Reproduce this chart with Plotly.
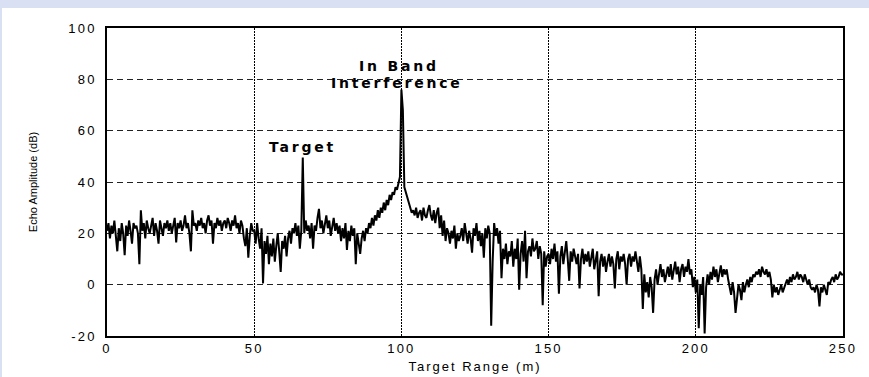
import plotly.graph_objects as go

amp_000_010 = [21, 24, 18, 23, 20, 25, 19, 13, 22, 17, 24, 20, 11.5, 23, 19, 25, 21, 16, 24, 22]
amp_010_020 = [23, 20, 8, 29, 21, 24, 18, 25, 22, 20, 23, 26, 19, 24, 21, 16, 25, 22, 19, 24]
amp_020_030 = [22, 25, 21, 24, 20, 23, 26, 16.5, 24, 22, 25, 21, 23, 27, 22, 24, 20, 13, 29, 23]
amp_030_040 = [24, 21, 25, 23, 26, 22, 24, 20, 25, 27, 23, 25, 16, 24, 22, 26, 23, 25, 21, 24]
amp_040_050 = [25, 22, 26, 24, 21, 25, 23, 27, 22, 24, 20, 25, 23, 18, 15, 22, 10.5, 19, 24, 21]
amp_050_060 = [21, 16, 24, 18, 14, 22, 0.5, 17, 12, 19, 8, 16, 11, 18, 9, 15, 20, 13, 5, 17]
amp_060_070 = [14, 19, 11, 18, 21, 16, 22, 20, 24, 19, 23, 14, 21, 49.5, 20, 25, 21, 23, 18, 24]
amp_070_080 = [14, 23, 21, 26, 29.5, 22, 25, 20, 24, 27, 22, 25, 19, 23, 26, 21, 24, 20, 23, 17]
amp_080_090 = [22, 18, 24, 13.5, 21, 17, 23, 19, 22, 8, 20, 16, 12, 18, 21, 17, 22, 20, 24, 22]
amp_090_100 = [26, 23, 27, 25, 29, 26, 30, 28, 32, 29, 33, 31, 35, 33, 36, 35, 38, 37, 40, 42]
amp_100_110 = [76, 68, 38, 36, 34, 31, 30, 28, 29, 27, 30, 26, 28, 29, 25, 30, 27, 26, 29, 31]
amp_110_120 = [27, 25, 29, 24, 28, 30, 22, 27, 19, 25, 17, 22, 20, 16, 21, 18, 23, 14, 20, 17]
amp_120_130 = [19, 22, 17, 24, 20, 16, 21, 18, 12.5, 22, 19, 24, 17, 21, 15, 20, 10.5, 22, 18, 23]
amp_130_140 = [20, -16, 9, 24, 19, 22, 16, 21, 2.5, 14, 10, 16, 8, 13, 11, 17, 7, 14, 10, 18]
amp_140_150 = [-2, 12, 17, 9, 21, 2.5, 13, 15, 11, 18, 13, 14, 17, 10, 15, 12, -8, 13, 7, 11]
amp_150_160 = [12, 8, 14, 10, 16, 9, 13, -3.5, 11, 15, 8, 12, 17, 10, 1.5, 13, 9, 14, 11, 8]
amp_160_170 = [12, -1.5, 10, 14, 8, 12, 9, 13, 7, 11, 14, 6, 10, 13, -4.5, 9, 12, 7, 11, 5]
amp_170_180 = [9, 12, 7, 11, 8, -1.5, 10, 13, 6, 11, 9, 12, 8, 0, 10, 12, 7, 11, 9, 13]
amp_180_190 = [9, 5, 11, 6, -9.5, 4, -3, 1, -5, 3, -1, -11, 2, 6, 0, 5, 8, 3, 6, 1]
amp_190_200 = [5, 7, 3, 8, 2, 6, 9, 4, 7, 1, 6, 8, 3, 7, 5, 10, 4, 6, -1, 3]
amp_200_210 = [-3, 2, -17, 0, -4, 3, -19, -1, 4, 0, 5, 2, 7, 3, 6, 1, 5, 7.5, 3, 6]
amp_210_220 = [4, 6, 2, -1, -4, 1, -3, -11, -5, 0, -2, -6, 1, -3, 0, 2, -1, 3, 1, 4]
amp_220_230 = [3, 5, 4, 6, 3, 7, 5, 4, 6, 3, 5, 2, -5, 0, -3, -1, -4, -2, 0, -3]
amp_230_240 = [-1, 1, 2, 0, 3, 1, 4, 2, 3, 5, 2, 4, 3, 1, 4, 2, 0, 2, -1, -2]
amp_240_250 = [-1, -3, 0, -2, -8.5, -1, -3, 0, -2, -4, 1, 0, 2, 3, 1, 4, 2, 3, 5, 4, 4]

RANGE_STEP_M = 0.5
x_ticks = [0, 50, 100, 150, 200, 250]
x_tick_labels = ["0", "50", "100", "150", "200", "250"]
y_ticks = [-20, 0, 20, 40, 60, 80, 100]
y_tick_labels = ["-20", "0", "20", "40", "60", "80", "100"]

amplitude = (amp_000_010 + amp_010_020 + amp_020_030 + amp_030_040 + amp_040_050
             + amp_050_060 + amp_060_070 + amp_070_080 + amp_080_090 + amp_090_100
             + amp_100_110 + amp_110_120 + amp_120_130 + amp_130_140 + amp_140_150
             + amp_150_160 + amp_160_170 + amp_170_180 + amp_180_190 + amp_190_200
             + amp_200_210 + amp_210_220 + amp_220_230 + amp_230_240 + amp_240_250)
target_range = [i * RANGE_STEP_M for i in range(len(amplitude))]


def wide(s, px):
    return '<span style="letter-spacing:%spx">%s</span>' % (px, s)


W, H = 869, 377
L, R, T, B = 107, 26, 28, 41
pw, ph = W - L - R, H - T - B

fig = go.Figure()
fig.add_trace(go.Scatter(x=target_range, y=amplitude, mode="lines",
                         line=dict(color="black", width=2), showlegend=False,
                         hoverinfo="skip"))

tick_font = dict(family="Liberation Sans", size=13, color="black")
fig.update_xaxes(range=[0, 250], tickvals=x_ticks, ticktext=[wide(t, 2.2) for t in x_tick_labels],
                 ticks="", showline=True, mirror=True,
                 linecolor="black", linewidth=1.5, showgrid=True, gridcolor="black",
                 gridwidth=1.2, griddash="1.5px,1.5px", zeroline=False, tickfont=tick_font,
                 title=dict(text=wide("Target Range (m)", 2),
                            font=dict(family="Liberation Sans", size=13, color="black"),
                            standoff=7))
fig.update_yaxes(range=[-20, 100], tickvals=y_ticks, ticktext=[wide(t, 2.2) for t in y_tick_labels],
                 ticks="", ticklabelstandoff=6, showline=True, mirror=True,
                 linecolor="black", linewidth=1.5, showgrid=True, gridcolor="#222",
                 gridwidth=1, griddash="6px,4px", zeroline=False, tickfont=tick_font,
                 title=dict(text="Echo Amplitude (dB)",
                            font=dict(family="Liberation Sans", size=11, color="black"),
                            standoff=29))

ann_font = dict(family="DejaVu Sans", size=14, color="black")
fig.add_annotation(x=66.3, y=53.6, text="<b>" + wide("Target", 2.8) + "</b>", showarrow=False,
                   font=ann_font, xanchor="center", yanchor="middle")
fig.add_annotation(x=99.1, y=85.3, text="<b>" + wide("In Band", 2.8) + "</b>", showarrow=False,
                   font=ann_font, xanchor="center", yanchor="middle")
fig.add_annotation(x=98.4, y=78.4, text="<b>" + wide("Interference", 2.8) + "</b>", showarrow=False,
                   font=ann_font, xanchor="center", yanchor="middle")

# lavender frame strips (top and left) of the original picture
lav = "#d9e0f3"
fig.add_shape(type="rect", xref="paper", yref="paper", x0=-L / pw, x1=(W - L) / pw,
              y0=1 + (T - 8) / ph, y1=1 + T / ph, fillcolor=lav, line_width=0, layer="above")
fig.add_shape(type="rect", xref="paper", yref="paper", x0=-L / pw, x1=(2 - L) / pw,
              y0=-B / ph, y1=1 + T / ph, fillcolor=lav, line_width=0, layer="above")

fig.update_layout(width=W, height=H, margin=dict(l=L, r=R, t=T, b=B, autoexpand=False),
                  paper_bgcolor="white", plot_bgcolor="white")
fig.write_html("out.html", config={"displayModeBar": False},
               post_script="document.body.style.margin='0';document.body.style.padding='0';")
